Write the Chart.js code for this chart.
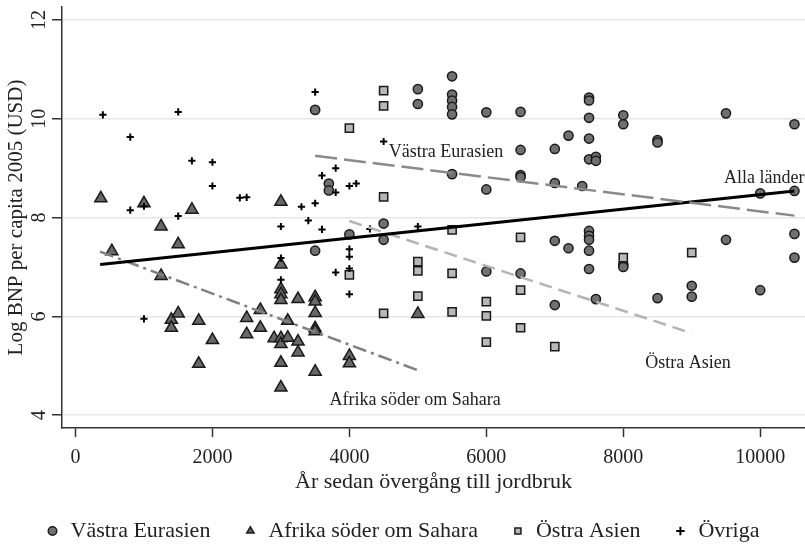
<!DOCTYPE html>
<html>
<head>
<meta charset="utf-8">
<script src="https://cdn.jsdelivr.net/npm/chart.js@4"></script>
<style>
  html, body { margin: 0; padding: 0; background: #fff; }
</style>
</head>
<body>
<canvas id="chart" width="805" height="548"></canvas>
<script>
// === data ===
const xTicks = [0, 2000, 4000, 6000, 8000, 10000];
const yTicks = [4, 6, 8, 10, 12];

const seriesNames = ["Västra Eurasien", "Afrika söder om Sahara", "Östra Asien", "Övriga"];

// Västra Eurasien (circles)
const westX = [3500, 3500, 3700, 3700, 4000, 4500, 4500, 5000, 5000,
  5500, 5500, 5500, 5500, 5500, 5500, 6000, 6000, 6000,
  6500, 6500, 6500, 6500, 6500, 7000, 7000, 7000, 7000, 7200, 7200, 7400,
  7500, 7500, 7500, 7500, 7500, 7500, 7500, 7500, 7500, 7500,
  7600, 7600, 7600, 8000, 8000, 8000, 8000, 8500, 8500, 8500,
  9000, 9000, 9500, 9500, 10000, 10000, 10500, 10500, 10500, 10500];
const westY = [10.18, 7.33, 8.69, 8.55, 7.66, 7.88, 7.55, 10.60, 10.30,
  10.86, 10.49, 10.37, 10.24, 10.09, 8.88, 10.13, 8.57, 6.91,
  10.14, 9.37, 8.86, 8.82, 6.87, 9.39, 8.70, 7.53, 6.23, 9.66, 7.38, 8.64,
  10.43, 10.37, 10.02, 9.60, 9.18, 7.73, 7.63, 7.55, 7.33, 6.96,
  9.23, 9.15, 6.35, 10.07, 9.89, 7.05, 7.00, 9.57, 9.52, 6.37,
  6.62, 6.40, 10.11, 7.55, 8.49, 6.53, 9.89, 8.54, 7.67, 7.19];

// Afrika söder om Sahara (triangles)
const africaX = [370, 530, 1000, 1250, 1250, 1400, 1400, 1500, 1500, 1700,
  1800, 1800, 2000, 2500, 2500, 2700, 2700, 2900,
  3000, 3000, 3000, 3000, 3000, 3000, 3000, 3000, 3000,
  3100, 3100, 3250, 3250, 3250, 3500, 3500, 3500, 3500, 3500, 3500,
  4000, 4000, 5000];
const africaY = [8.39, 7.32, 8.29, 7.82, 6.82, 5.93, 5.77, 7.46, 6.06, 8.16,
  5.91, 5.04, 5.52, 5.97, 5.64, 6.13, 5.77, 5.56,
  8.32, 7.05, 6.55, 6.45, 6.33, 5.56, 5.44, 5.06, 4.56,
  5.91, 5.57, 6.35, 5.49, 5.27, 6.39, 6.30, 6.07, 5.76, 5.70, 4.88,
  5.20, 5.05, 6.05];

// Östra Asien (squares)
const eastX = [4000, 4000, 4500, 4500, 4500, 4500, 5000, 5000, 5000,
  5500, 5500, 5500, 6000, 6000, 6000, 6500, 6500, 6500, 7000, 8000, 9000];
const eastY = [9.81, 6.84, 10.57, 10.26, 8.42, 6.06, 7.11, 6.92, 6.41,
  7.75, 6.87, 6.09, 6.30, 6.01, 5.48, 7.60, 6.53, 5.77, 5.39, 7.19, 7.29];

// Övriga (plus)
const otherX = [400, 800, 800, 1000, 1000, 1500, 1500, 1700, 2000, 2000, 2400, 2500,
  3000, 3000, 3000, 3300, 3400, 3500, 3500, 3600, 3600, 3800, 3800, 3800,
  4000, 4000, 4000, 4000, 4000, 4100, 4300, 4500, 5000];
const otherY = [10.08, 9.63, 8.15, 8.23, 5.95, 10.14, 8.03, 9.15, 9.12, 8.64, 8.40, 8.41,
  7.82, 7.18, 6.74, 8.22, 7.94, 10.54, 8.29, 8.85, 7.76, 9.00, 8.51, 6.89,
  8.64, 7.36, 7.21, 6.97, 6.45, 8.69, 7.77, 9.54, 7.82];

// fitted lines (end points)
const fitNames = ["Västra Eurasien", "Alla länder", "Östra Asien", "Afrika söder om Sahara"];
const fitWestX = [3500, 10500], fitWestY = [9.25, 8.04];
const fitAllX = [360, 10500], fitAllY = [7.05, 8.54];
const fitEastX = [4000, 9000], fitEastY = [7.93, 5.66];
const fitAfricaX = [360, 5000], fitAfricaY = [7.31, 4.91];

function pts(xs, ys) {
  return xs.map((x, i) => ({ x: x, y: ys[i] }));
}

const serif = "'Liberation Serif', 'Times New Roman', serif";
const ink = "#222";

// line labels, placed in data units
const fitLabelPos = [
  { text: fitNames[0], x: 5411, y: 9.33 },
  { text: fitNames[1], x: 10060, y: 8.80 },
  { text: fitNames[2], x: 8945, y: 5.06 },
  { text: fitNames[3], x: 4960, y: 4.31 }
];

const lineLabels = {
  id: "lineLabels",
  afterDatasetsDraw(chart) {
    const { ctx, scales } = chart;
    ctx.save();
    ctx.font = "18px " + serif;
    ctx.fillStyle = ink;
    ctx.textAlign = "center";
    ctx.textBaseline = "middle";
    fitLabelPos.forEach(l => {
      ctx.fillText(l.text, scales.x.getPixelForValue(l.x), scales.y.getPixelForValue(l.y));
    });
    ctx.restore();
  }
};

function fitLine(label, xs, ys, color, width, dash) {
  return {
    label: label,
    data: pts(xs, ys),
    showLine: true,
    borderColor: color,
    borderWidth: width,
    borderDash: dash,
    pointRadius: 0,
    fill: false,
    order: 0
  };
}

const ctx = document.getElementById("chart").getContext("2d");
const chart = new Chart(ctx, {
  type: "scatter",
  data: {
    datasets: [
      { label: seriesNames[0], data: pts(westX, westY), pointStyle: "circle", pointRadius: 4.6,
        backgroundColor: "#707070", borderColor: "#1a1a1a", borderWidth: 1.5, order: 4 },
      { label: seriesNames[1], data: pts(africaX, africaY), pointStyle: "triangle", pointRadius: 7,
        backgroundColor: "#686868", borderColor: "#1a1a1a", borderWidth: 1.5, order: 3 },
      { label: seriesNames[2], data: pts(eastX, eastY), pointStyle: "rect", pointRadius: 5.8,
        backgroundColor: "#b8b8b8", borderColor: "#1a1a1a", borderWidth: 1.5, order: 2 },
      { label: seriesNames[3], data: pts(otherX, otherY), pointStyle: "cross", pointRadius: 3.6,
        backgroundColor: "#000", borderColor: "#000", borderWidth: 2, order: 1 },
      fitLine(fitNames[0], fitWestX, fitWestY, "#8a8a8a", 2.5, [22, 7]),
      fitLine(fitNames[1], fitAllX, fitAllY, "#000", 3, []),
      fitLine(fitNames[2], fitEastX, fitEastY, "#b4b4b4", 2.5, [13, 7]),
      fitLine(fitNames[3], fitAfricaX, fitAfricaY, "#808080", 2.5, [14, 5, 3, 5])
    ]
  },
  options: {
    responsive: false,
    animation: false,
    layout: { autoPadding: false, padding: { top: 7, left: 0, right: 0, bottom: -4 } },
    plugins: {
      tooltip: { enabled: false },
      legend: {
        position: "bottom",
        labels: {
          usePointStyle: true,
          boxWidth: 14,
          boxHeight: 6,
          padding: 33,
          color: ink,
          font: { family: serif, size: 22 },
          filter: item => item.datasetIndex < 4,
          sort: (a, b) => a.datasetIndex - b.datasetIndex
        }
      }
    },
    scales: {
      x: {
        type: "linear",
        min: -197,
        max: 10654,
        afterBuildTicks: s => { s.ticks = xTicks.map(v => ({ value: v })); },
        afterFit: s => { s.height = 59; s.paddingLeft = 0; s.paddingRight = 0; },
        grid: { drawOnChartArea: false, tickLength: 9, tickColor: "#333", tickWidth: 1.5 },
        border: { color: "#333", width: 1.5 },
        ticks: { font: { family: serif, size: 20 }, color: ink, padding: 9, maxRotation: 0,
          callback: v => String(v) },
        title: { display: true, text: "År sedan övergång till jordbruk", color: ink,
          font: { family: serif, size: 22 }, padding: { top: 0, bottom: -8 } }
      },
      y: {
        min: 3.741,
        max: 12.263,
        afterBuildTicks: s => { s.ticks = yTicks.map(v => ({ value: v })); },
        afterFit: s => { s.width = 62; s.paddingTop = 0; s.paddingBottom = 0; },
        grid: { color: "#e6e6e6", lineWidth: 1.5, tickLength: 10, tickColor: "#333", tickWidth: 1.5 },
        border: { color: "#333", width: 1.5 },
        ticks: { font: { family: serif, size: 20 }, color: ink, padding: 2,
          minRotation: 90, maxRotation: 90, crossAlign: "center", callback: v => String(v) },
        title: { display: true, text: "Log BNP per capita 2005 (USD)", color: ink,
          font: { family: serif, size: 21 }, padding: { top: 4, bottom: 0 } }
      }
    }
  },
  plugins: [lineLabels]
});
</script>
</body>
</html>
